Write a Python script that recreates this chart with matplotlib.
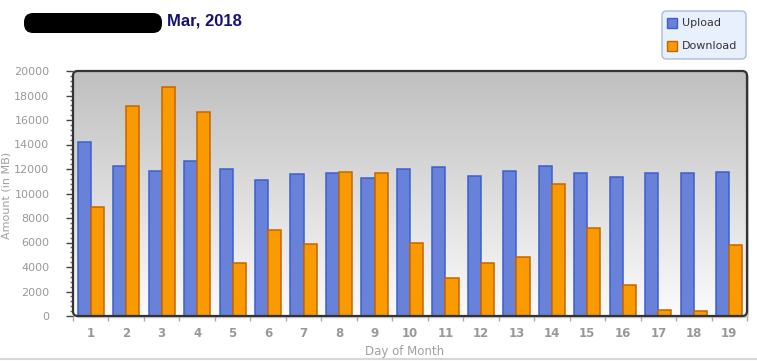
import matplotlib
matplotlib.use("Agg")
import matplotlib.pyplot as plt
import numpy as np
from matplotlib.patches import FancyBboxPatch, Rectangle
from matplotlib.lines import Line2D

days = list(range(1, 20))
day_labels = [str(d) for d in days]
upload = [14200, 12250, 11850, 12650, 12000, 11100, 11600, 11650, 11250, 12000,
          12150, 11430, 11820, 12250, 11650, 11330, 11650, 11650, 11730]
download = [8900, 17130, 18680, 16640, 4320, 7020, 5860, 11740, 11660, 5950,
            3100, 4310, 4800, 10760, 7170, 2510, 480, 390, 5780]
title_text = "Mar, 2018"
series_names = ["Upload", "Download"]
y_label = "Amount (in MB)"
x_label = "Day of Month"

W, H = 757, 361
fig = plt.figure(figsize=(W / 100, H / 100), dpi=100)
plt.rcParams['font.family'] = ['DejaVu Sans']

ax_l, ax_r, ax_t, ax_b = 73, 747, 71, 316
ax = fig.add_axes([ax_l / W, 1 - ax_b / H, (ax_r - ax_l) / W, (ax_b - ax_t) / H])
ax.set_xlim(0.5, 19.5)
ax.set_ylim(0, 20000)
for s in ax.spines.values():
    s.set_visible(False)
ax.patch.set_visible(False)

asp = 674 / 245
rs = 0.007
shadow = FancyBboxPatch((0.003, -0.009), 1.0, 1.0, boxstyle=f"round,pad=0,rounding_size={rs}",
                        transform=ax.transAxes, facecolor="#cfcfcf", edgecolor="none",
                        zorder=0, clip_on=False, mutation_aspect=asp)
ax.add_patch(shadow)
frame_bg = FancyBboxPatch((0, 0), 1, 1, boxstyle=f"round,pad=0,rounding_size={rs}",
                          transform=ax.transAxes, facecolor="white", edgecolor="none",
                          zorder=0.5, clip_on=False, mutation_aspect=asp)
ax.add_patch(frame_bg)
grad = np.linspace(0, 1, 256).reshape(-1, 1)
top_c = np.array([0xbf, 0xbf, 0xbf]) / 255
bot_c = np.array([0xfb, 0xfb, 0xfb]) / 255
img = top_c * (1 - grad[:, :, None]) + bot_c * grad[:, :, None]
im = ax.imshow(img, extent=(0.5, 19.5, 0, 20000), aspect='auto', origin='upper', zorder=1)
im.set_clip_path(frame_bg)
frame = FancyBboxPatch((0, 0), 1, 1, boxstyle=f"round,pad=0,rounding_size={rs}",
                       transform=ax.transAxes, facecolor="none", edgecolor="#333333",
                       linewidth=1.6, zorder=5, clip_on=False, mutation_aspect=asp)
ax.add_patch(frame)

w = 0.37
x = np.array(days, dtype=float)
ax.bar(x - w / 2, upload, width=w, color="#6881d9", edgecolor="#3c5fcd", linewidth=1.1, zorder=3)
ax.bar(x + w / 2, download, width=w, color="#f89a00", edgecolor="#c86400", linewidth=1.1, zorder=3)

ax.set_yticks(np.arange(0, 20001, 2000))
ax.set_yticks(np.arange(0, 20001, 400), minor=True)
ax.tick_params(axis='y', which='major', length=5, width=1, color="#444444", direction='out',
               labelsize=8, labelcolor="#999999", pad=12)
ax.tick_params(axis='y', which='minor', length=2.5, width=1, color="#666666", direction='out')
ax.set_xticks(x)
ax.set_xticklabels(day_labels, fontweight='bold', fontsize=8.5, color="#999999")
ax.set_xticks(np.arange(0.5, 19.6, 1), minor=True)
ax.tick_params(axis='x', which='major', length=0, pad=8)
ax.tick_params(axis='x', which='minor', length=3.6, width=1, color="#aaaaaa", direction='out')

fig.text(7 / W, 1 - 195 / H, y_label, rotation=90, ha='center', va='center',
         fontsize=8, color="#a0a0a0")
fig.text(405 / W, 1 - 351 / H, x_label, ha='center', va='center', fontsize=8.5, color="#a0a0a0")

blob = FancyBboxPatch((24 / W, 1 - 33 / H), 138 / W, 20 / H,
                      boxstyle="round,pad=0,rounding_size=0.012", transform=fig.transFigure,
                      facecolor="black", edgecolor="none", mutation_aspect=757 / 361)
fig.patches.append(blob)
fig.text(167 / W, 1 - 21 / H, title_text, ha='left', va='center', fontsize=12,
         fontweight='bold', color="#14146e", family=['Liberation Sans', 'DejaVu Sans'])

leg = FancyBboxPatch((662 / W, 1 - 59 / H), 84 / W, 48 / H,
                     boxstyle="round,pad=0,rounding_size=0.006", transform=fig.transFigure,
                     facecolor="#e8f0fd", edgecolor="#a9bddb", linewidth=1,
                     mutation_aspect=757 / 361)
fig.patches.append(leg)
leg_cols = [("#6881d9", "#3c5fcd"), ("#f89a00", "#c86400")]
for i, (name, (fc, ec)) in enumerate(zip(series_names, leg_cols)):
    yc = 23 + 23 * i
    fig.patches.append(Rectangle((667 / W, 1 - (yc + 5) / H), 10 / W, 10 / H,
                                 transform=fig.transFigure, facecolor=fc, edgecolor=ec,
                                 linewidth=1))
    fig.text(682 / W, 1 - yc / H, name, ha='left', va='center', fontsize=8, color="#333333")

fig.add_artist(Line2D([0, 1], [1 - 358.5 / H, 1 - 358.5 / H], transform=fig.transFigure,
                      color="#d8d8d8", linewidth=1.5))

fig.savefig("out.png", dpi=100)
